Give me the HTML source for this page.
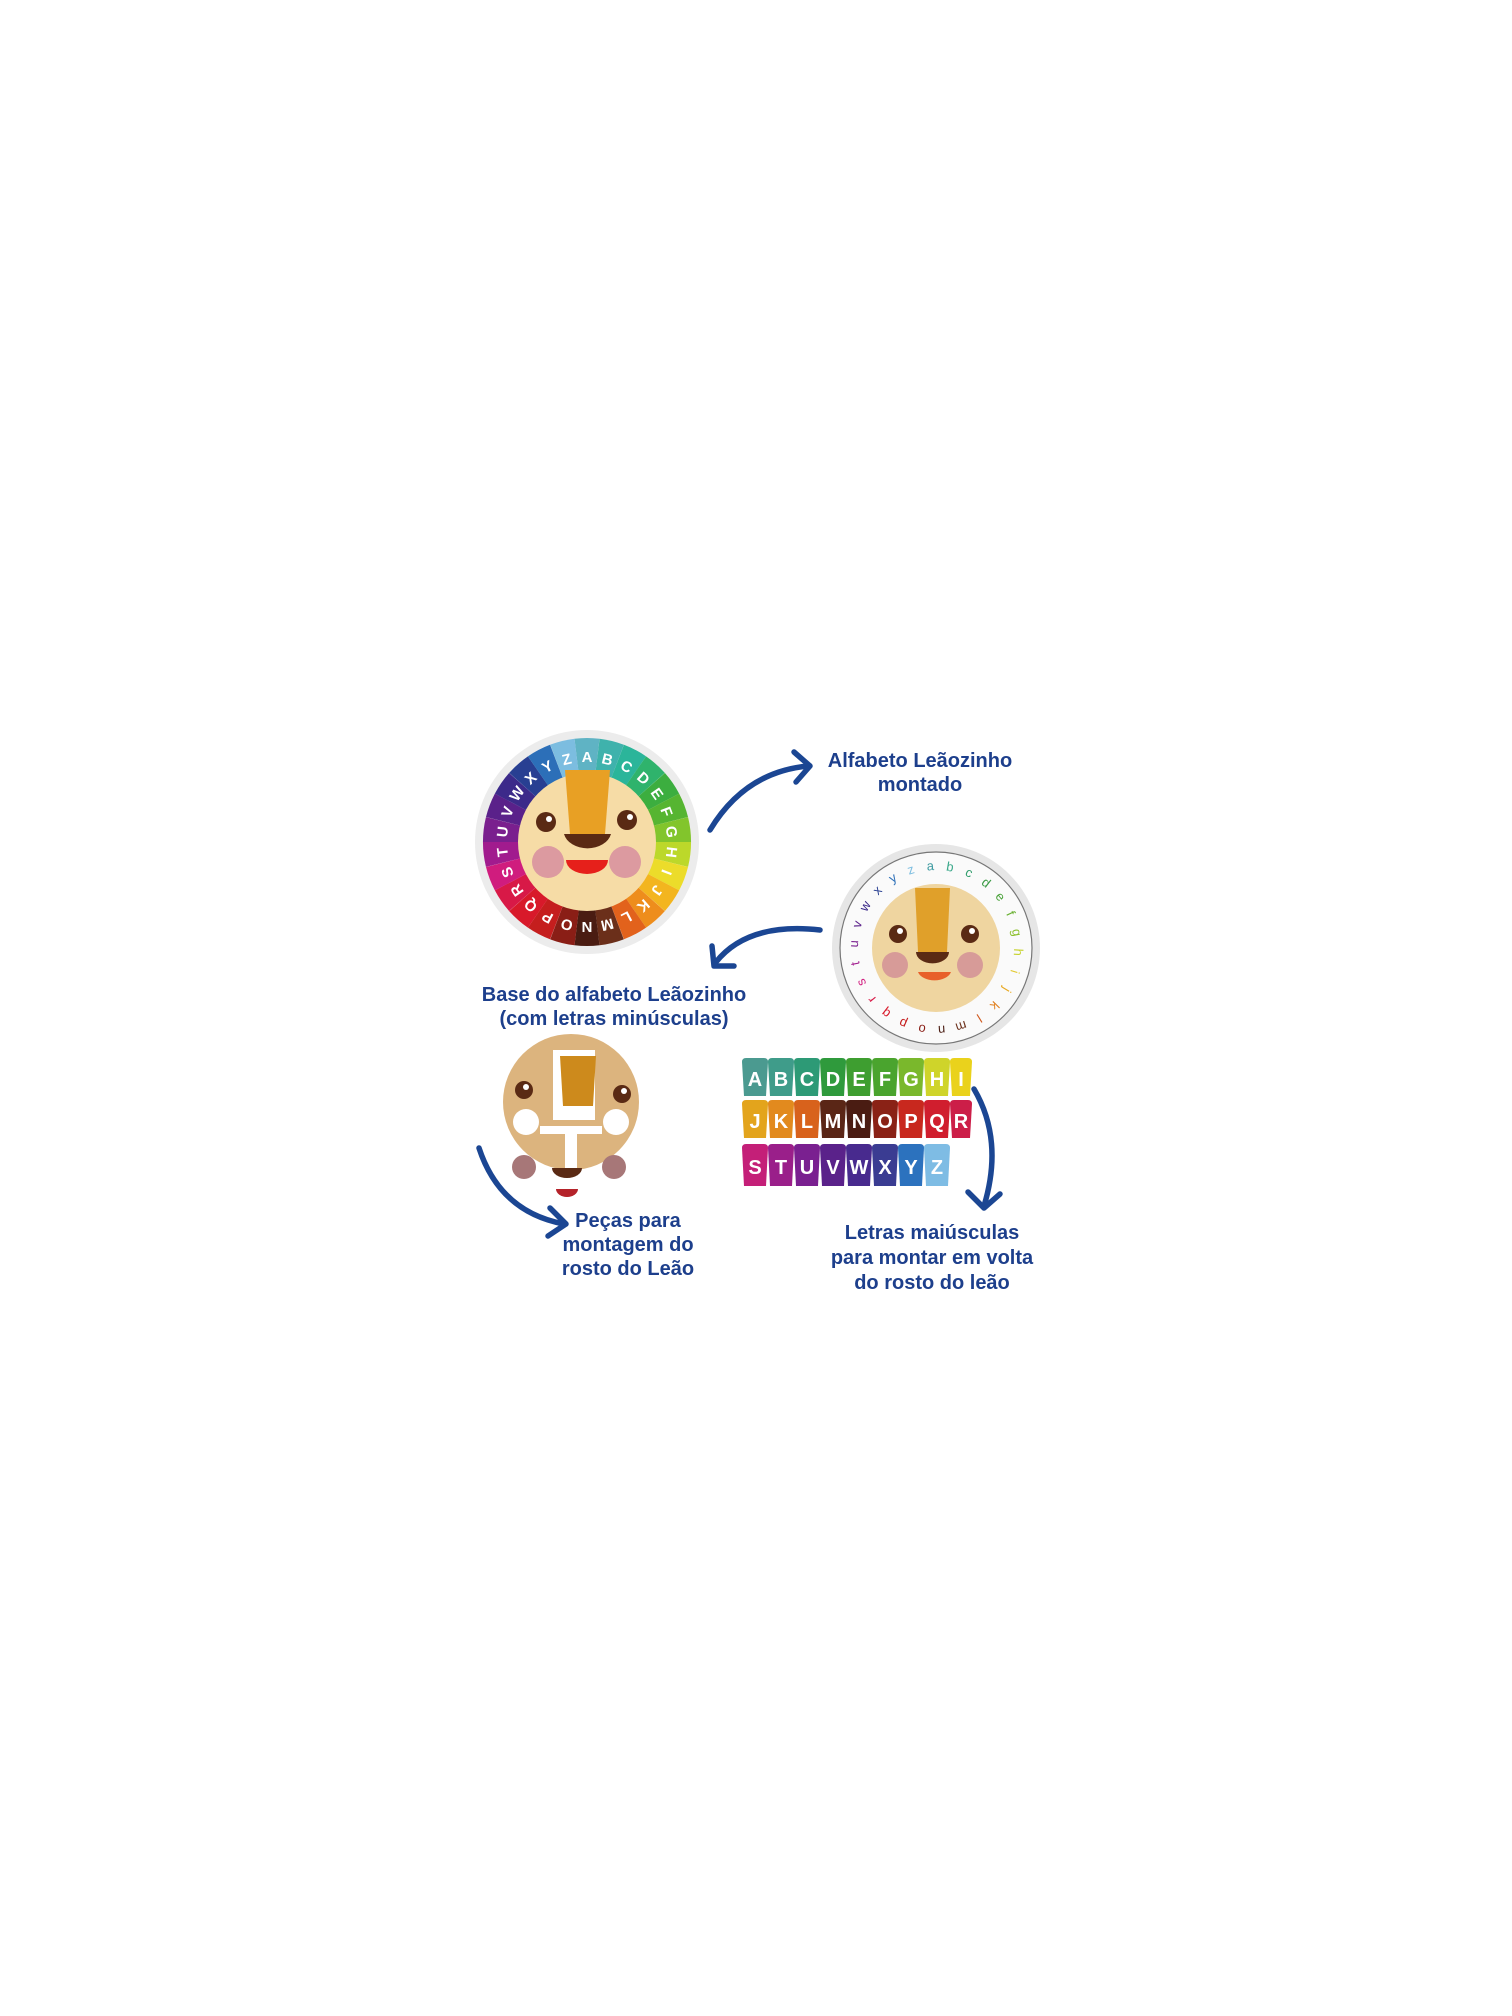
<!DOCTYPE html>
<html><head><meta charset="utf-8"><style>
html,body{margin:0;padding:0;background:#fff}
svg{display:block}
text{font-family:"Liberation Sans",sans-serif}
.lbl{font-family:"Liberation Sans",sans-serif;font-weight:bold;fill:#1d3f8c;font-size:20px;text-anchor:middle}
.wl{font-weight:bold;fill:#fff;font-size:15px;text-anchor:middle}
.ll{font-size:13px;text-anchor:middle}
.tl{font-weight:bold;fill:#fff;font-size:20px;text-anchor:middle}
.arr{fill:none;stroke:#1b4693;stroke-width:5.5;stroke-linecap:round;stroke-linejoin:round}
</style></head><body>
<svg width="1512" height="2016" viewBox="0 0 1512 2016" xmlns="http://www.w3.org/2000/svg">
<defs>
<path id="pet" d="M-8.2 -67.5 L-12.5 -103.3 A104 104 0 0 1 12.5 -103.3 L8.2 -67.5 Z"/>
</defs>

<!-- Big wheel -->
<circle cx="587" cy="842" r="112" fill="#ececec"/>
<g transform="translate(587,842)">
<g transform="rotate(0)"><use href="#pet" fill="#5fb3c4"/><text class="wl" y="-80">A</text></g>
<g transform="rotate(13.85)"><use href="#pet" fill="#3fb2ac"/><text class="wl" y="-80">B</text></g>
<g transform="rotate(27.7)"><use href="#pet" fill="#2bb59a"/><text class="wl" y="-80">C</text></g>
<g transform="rotate(41.5)"><use href="#pet" fill="#2fb36c"/><text class="wl" y="-80">D</text></g>
<g transform="rotate(55.4)"><use href="#pet" fill="#3cae3f"/><text class="wl" y="-80">E</text></g>
<g transform="rotate(69.2)"><use href="#pet" fill="#56b531"/><text class="wl" y="-80">F</text></g>
<g transform="rotate(83.1)"><use href="#pet" fill="#82c52c"/><text class="wl" y="-80">G</text></g>
<g transform="rotate(96.9)"><use href="#pet" fill="#bcd82a"/><text class="wl" y="-80">H</text></g>
<g transform="rotate(110.8)"><use href="#pet" fill="#ecdc2a"/><text class="wl" y="-80">I</text></g>
<g transform="rotate(124.6)"><use href="#pet" fill="#f3b51f"/><text class="wl" y="-80">J</text></g>
<g transform="rotate(138.5)"><use href="#pet" fill="#ee8d1c"/><text class="wl" y="-80">K</text></g>
<g transform="rotate(152.3)"><use href="#pet" fill="#e2621c"/><text class="wl" y="-80">L</text></g>
<g transform="rotate(166.2)"><use href="#pet" fill="#6b2f1a"/><text class="wl" y="-80">M</text></g>
<g transform="rotate(180)"><use href="#pet" fill="#4a1c12"/><text class="wl" y="-80">N</text></g>
<g transform="rotate(193.8)"><use href="#pet" fill="#8a1e16"/><text class="wl" y="-80">O</text></g>
<g transform="rotate(207.7)"><use href="#pet" fill="#c51e1e"/><text class="wl" y="-80">P</text></g>
<g transform="rotate(221.5)"><use href="#pet" fill="#d8192a"/><text class="wl" y="-80">Q</text></g>
<g transform="rotate(235.4)"><use href="#pet" fill="#d81947"/><text class="wl" y="-80">R</text></g>
<g transform="rotate(249.2)"><use href="#pet" fill="#d01c7e"/><text class="wl" y="-80">S</text></g>
<g transform="rotate(263.1)"><use href="#pet" fill="#a11b8e"/><text class="wl" y="-80">T</text></g>
<g transform="rotate(276.9)"><use href="#pet" fill="#7a1f8e"/><text class="wl" y="-80">U</text></g>
<g transform="rotate(290.8)"><use href="#pet" fill="#5a218a"/><text class="wl" y="-80">V</text></g>
<g transform="rotate(304.6)"><use href="#pet" fill="#3c2a8a"/><text class="wl" y="-80">W</text></g>
<g transform="rotate(318.5)"><use href="#pet" fill="#283f92"/><text class="wl" y="-80">X</text></g>
<g transform="rotate(332.3)"><use href="#pet" fill="#2c6fb8"/><text class="wl" y="-80">Y</text></g>
<g transform="rotate(346.2)"><use href="#pet" fill="#7cbde0"/><text class="wl" y="-80">Z</text></g>
</g>
<circle cx="587" cy="842" r="69" fill="#f6dca6"/>
<path d="M565 770 L610 770 L605 834 L570 834 Z" fill="#e8a024"/>
<path d="M564 834 L611 834 A24 18 0 0 1 564 834 Z" fill="#5a2a14"/>
<circle cx="546" cy="822" r="10" fill="#5a2a14"/><circle cx="549" cy="819" r="3" fill="#fff"/>
<circle cx="627" cy="820" r="10" fill="#5a2a14"/><circle cx="630" cy="817" r="3" fill="#fff"/>
<circle cx="548" cy="862" r="16" fill="#dc9aa0"/>
<circle cx="625" cy="862" r="16" fill="#dc9aa0"/>
<path d="M566 860 L608 860 A21 14 0 0 1 566 860 Z" fill="#e6201b"/>

<!-- Lowercase disc -->
<circle cx="936" cy="948" r="104" fill="#e6e6e6"/>
<circle cx="936" cy="948" r="96" fill="#fafafa" stroke="#777" stroke-width="1.2"/>
<g transform="translate(936,948)">
<text class="ll" fill="#3d9aa0" transform="rotate(-4)" y="-78">a</text>
<text class="ll" fill="#3aa88a" transform="rotate(9.8)" y="-78">b</text>
<text class="ll" fill="#2d9c6a" transform="rotate(23.7)" y="-78">c</text>
<text class="ll" fill="#3a9a44" transform="rotate(37.5)" y="-78">d</text>
<text class="ll" fill="#4aa23a" transform="rotate(51.4)" y="-78">e</text>
<text class="ll" fill="#68b030" transform="rotate(65.2)" y="-78">f</text>
<text class="ll" fill="#8cc02c" transform="rotate(79.1)" y="-78">g</text>
<text class="ll" fill="#c6d22c" transform="rotate(92.9)" y="-78">h</text>
<text class="ll" fill="#e2c82a" transform="rotate(106.8)" y="-78">i</text>
<text class="ll" fill="#e8a820" transform="rotate(120.6)" y="-78">j</text>
<text class="ll" fill="#e07e1c" transform="rotate(134.5)" y="-78">k</text>
<text class="ll" fill="#d0581c" transform="rotate(148.3)" y="-78">l</text>
<text class="ll" fill="#6b2f1a" transform="rotate(162.2)" y="-78">m</text>
<text class="ll" fill="#4a1c12" transform="rotate(176)" y="-78">n</text>
<text class="ll" fill="#8a1e16" transform="rotate(189.8)" y="-78">o</text>
<text class="ll" fill="#c51e1e" transform="rotate(203.7)" y="-78">p</text>
<text class="ll" fill="#d8192a" transform="rotate(217.5)" y="-78">q</text>
<text class="ll" fill="#d81947" transform="rotate(231.4)" y="-78">r</text>
<text class="ll" fill="#d01c7e" transform="rotate(245.2)" y="-78">s</text>
<text class="ll" fill="#a11b8e" transform="rotate(259.1)" y="-78">t</text>
<text class="ll" fill="#7a1f8e" transform="rotate(272.9)" y="-78">u</text>
<text class="ll" fill="#5a218a" transform="rotate(286.8)" y="-78">v</text>
<text class="ll" fill="#3c2a8a" transform="rotate(300.6)" y="-78">w</text>
<text class="ll" fill="#283f92" transform="rotate(314.5)" y="-78">x</text>
<text class="ll" fill="#2c6fb8" transform="rotate(328.3)" y="-78">y</text>
<text class="ll" fill="#7cbde0" transform="rotate(342.2)" y="-78">z</text>
</g>
<circle cx="936" cy="948" r="64" fill="#efd5a0"/>
<path d="M915 888 L950 888 L947 952 L918 952 Z" fill="#e0a02a"/>
<path d="M916 952 L949 952 A16 11 0 0 1 916 952 Z" fill="#5a2a14"/>
<circle cx="898" cy="934" r="9" fill="#5a2a14"/><circle cx="900" cy="931" r="3" fill="#fff"/>
<circle cx="970" cy="934" r="9" fill="#5a2a14"/><circle cx="972" cy="931" r="3" fill="#fff"/>
<circle cx="895" cy="965" r="13" fill="#d79b98"/>
<circle cx="970" cy="965" r="13" fill="#d79b98"/>
<path d="M918 972 L951 972 A17 11 0 0 1 918 972 Z" fill="#e8602a"/>

<!-- Pieces -->
<circle cx="571" cy="1102" r="68" fill="#dcb47e"/>
<rect x="553" y="1050" width="42" height="70" fill="#fff"/>
<rect x="540" y="1126" width="62" height="8" fill="#fff"/>
<rect x="565" y="1130" width="12" height="44" fill="#fff"/>
<path d="M560 1056 L596 1056 L593 1106 L563 1106 Z" fill="#cd8a1c"/>
<circle cx="526" cy="1122" r="13" fill="#fff"/>
<circle cx="616" cy="1122" r="13" fill="#fff"/>
<circle cx="524" cy="1090" r="9" fill="#5a2a14"/><circle cx="526" cy="1087" r="3" fill="#fff"/>
<circle cx="622" cy="1094" r="9" fill="#5a2a14"/><circle cx="624" cy="1091" r="3" fill="#fff"/>
<circle cx="524" cy="1167" r="12" fill="#a77778"/>
<circle cx="614" cy="1167" r="12" fill="#a77778"/>
<path d="M552 1168 L582 1168 A15 10 0 0 1 552 1168 Z" fill="#5a2a14"/>
<path d="M556 1189 L578 1189 A11 8 0 0 1 556 1189 Z" fill="#b5232a"/>

<!-- Tiles -->
<g>
<path d="M742 1062 Q742 1058 746 1058 L764 1058 Q768 1058 768 1062 L766 1096 L744 1096 Z" fill="#4b9a90"/><text class="tl" x="755" y="1086">A</text>
<path d="M768 1062 Q768 1058 772 1058 L790 1058 Q794 1058 794 1062 L792 1096 L770 1096 Z" fill="#3f9c8a"/><text class="tl" x="781" y="1086">B</text>
<path d="M794 1062 Q794 1058 798 1058 L816 1058 Q820 1058 820 1062 L818 1096 L796 1096 Z" fill="#2d9a76"/><text class="tl" x="807" y="1086">C</text>
<path d="M820 1062 Q820 1058 824 1058 L842 1058 Q846 1058 846 1062 L844 1096 L822 1096 Z" fill="#2f9a3c"/><text class="tl" x="833" y="1086">D</text>
<path d="M846 1062 Q846 1058 850 1058 L868 1058 Q872 1058 872 1062 L870 1096 L848 1096 Z" fill="#3e9e30"/><text class="tl" x="859" y="1086">E</text>
<path d="M872 1062 Q872 1058 876 1058 L894 1058 Q898 1058 898 1062 L896 1096 L874 1096 Z" fill="#4aa42e"/><text class="tl" x="885" y="1086">F</text>
<path d="M898 1062 Q898 1058 902 1058 L920 1058 Q924 1058 924 1062 L922 1096 L900 1096 Z" fill="#7ab82c"/><text class="tl" x="911" y="1086">G</text>
<path d="M924 1062 Q924 1058 928 1058 L946 1058 Q950 1058 950 1062 L948 1096 L926 1096 Z" fill="#cfd42a"/><text class="tl" x="937" y="1086">H</text>
<path d="M950 1062 Q950 1058 954 1058 L968 1058 Q972 1058 972 1062 L970 1096 L952 1096 Z" fill="#ead21c"/><text class="tl" x="961" y="1086">I</text>

<path d="M742 1104 Q742 1100 746 1100 L764 1100 Q768 1100 768 1104 L766 1138 L744 1138 Z" fill="#e3a41c"/><text class="tl" x="755" y="1128">J</text>
<path d="M768 1104 Q768 1100 772 1100 L790 1100 Q794 1100 794 1104 L792 1138 L770 1138 Z" fill="#e28a1e"/><text class="tl" x="781" y="1128">K</text>
<path d="M794 1104 Q794 1100 798 1100 L816 1100 Q820 1100 820 1104 L818 1138 L796 1138 Z" fill="#d8621c"/><text class="tl" x="807" y="1128">L</text>
<path d="M820 1104 Q820 1100 824 1100 L842 1100 Q846 1100 846 1104 L844 1138 L822 1138 Z" fill="#5a2616"/><text class="tl" x="833" y="1128">M</text>
<path d="M846 1104 Q846 1100 850 1100 L868 1100 Q872 1100 872 1104 L870 1138 L848 1138 Z" fill="#4a1c12"/><text class="tl" x="859" y="1128">N</text>
<path d="M872 1104 Q872 1100 876 1100 L894 1100 Q898 1100 898 1104 L896 1138 L874 1138 Z" fill="#8a2216"/><text class="tl" x="885" y="1128">O</text>
<path d="M898 1104 Q898 1100 902 1100 L920 1100 Q924 1100 924 1104 L922 1138 L900 1138 Z" fill="#c8281e"/><text class="tl" x="911" y="1128">P</text>
<path d="M924 1104 Q924 1100 928 1100 L946 1100 Q950 1100 950 1104 L948 1138 L926 1138 Z" fill="#d01e2e"/><text class="tl" x="937" y="1128">Q</text>
<path d="M950 1104 Q950 1100 954 1100 L968 1100 Q972 1100 972 1104 L970 1138 L952 1138 Z" fill="#cc1e48"/><text class="tl" x="961" y="1128">R</text>

<path d="M742 1148 Q742 1144 746 1144 L764 1144 Q768 1144 768 1148 L766 1186 L744 1186 Z" fill="#c41f78"/><text class="tl" x="755" y="1174">S</text>
<path d="M768 1148 Q768 1144 772 1144 L790 1144 Q794 1144 794 1148 L792 1186 L770 1186 Z" fill="#9a1f8a"/><text class="tl" x="781" y="1174">T</text>
<path d="M794 1148 Q794 1144 798 1144 L816 1144 Q820 1144 820 1148 L818 1186 L796 1186 Z" fill="#7a2090"/><text class="tl" x="807" y="1174">U</text>
<path d="M820 1148 Q820 1144 824 1144 L842 1144 Q846 1144 846 1148 L844 1186 L822 1186 Z" fill="#5a228a"/><text class="tl" x="833" y="1174">V</text>
<path d="M846 1148 Q846 1144 850 1144 L868 1144 Q872 1144 872 1148 L870 1186 L848 1186 Z" fill="#482a8e"/><text class="tl" x="859" y="1174">W</text>
<path d="M872 1148 Q872 1144 876 1144 L894 1144 Q898 1144 898 1148 L896 1186 L874 1186 Z" fill="#3a3c92"/><text class="tl" x="885" y="1174">X</text>
<path d="M898 1148 Q898 1144 902 1144 L920 1144 Q924 1144 924 1148 L922 1186 L900 1186 Z" fill="#2c72be"/><text class="tl" x="911" y="1174">Y</text>
<path d="M924 1148 Q924 1144 928 1144 L946 1144 Q950 1144 950 1148 L948 1186 L926 1186 Z" fill="#7ebce4"/><text class="tl" x="937" y="1174">Z</text>
</g>

<!-- Arrows -->
<path class="arr" d="M710 830 Q745 772 808 766"/>
<path class="arr" d="M794 752 L810 766 L796 782"/>
<path class="arr" d="M820 930 Q748 922 716 962"/>
<path class="arr" d="M712 946 L714 966 L734 966"/>
<path class="arr" d="M479 1148 Q500 1212 564 1224"/>
<path class="arr" d="M550 1208 L566 1224 L548 1236"/>
<path class="arr" d="M974 1089 Q1004 1140 984 1206"/>
<path class="arr" d="M968 1192 L984 1208 L1000 1194"/>

<!-- Labels -->
<text class="lbl" x="920" y="767">Alfabeto Leãozinho</text>
<text class="lbl" x="920" y="791">montado</text>
<text class="lbl" x="614" y="1001">Base do alfabeto Leãozinho</text>
<text class="lbl" x="614" y="1025">(com letras minúsculas)</text>
<text class="lbl" x="628" y="1227">Peças para</text>
<text class="lbl" x="628" y="1251">montagem do</text>
<text class="lbl" x="628" y="1275">rosto do Leão</text>
<text class="lbl" x="932" y="1239">Letras maiúsculas</text>
<text class="lbl" x="932" y="1264">para montar em volta</text>
<text class="lbl" x="932" y="1289">do rosto do leão</text>
</svg>
</body></html>
